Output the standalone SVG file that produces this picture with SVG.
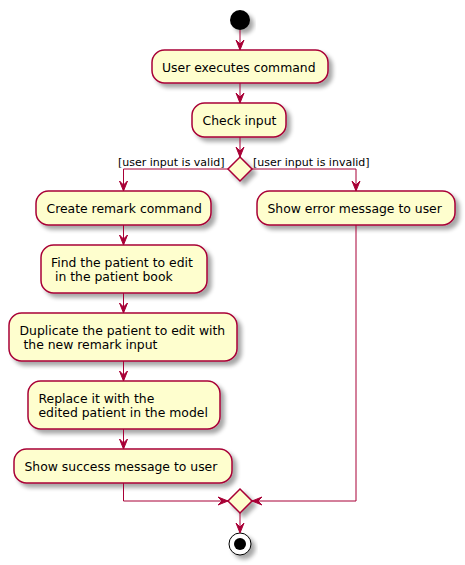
<svg xmlns="http://www.w3.org/2000/svg" width="465" height="565" viewBox="0 0 465 565">
<defs>
<filter id="sh" x="-20%" y="-20%" width="150%" height="160%">
<feGaussianBlur in="SourceAlpha" stdDeviation="2"/>
<feOffset dx="4" dy="4" result="b"/>
<feComponentTransfer><feFuncA type="linear" slope="0.35"/></feComponentTransfer>
<feMerge><feMergeNode/><feMergeNode in="SourceGraphic"/></feMerge>
</filter>
<marker id="ah" viewBox="0 0 11 10" refX="10" refY="5" markerWidth="11" markerHeight="10" markerUnits="userSpaceOnUse" orient="auto">
<polygon points="0,1 10,5 0,9 4,5" fill="#A80036" stroke="#A80036" stroke-width="1"/>
</marker>
</defs>
<style>
.act{fill:#FEFECE;stroke:#A80036;stroke-width:1.5;filter:url(#sh)}
.t{font-family:"DejaVu Sans",Verdana,sans-serif;font-size:12.4px;fill:#000}
.lbl{font-family:"DejaVu Sans",Verdana,sans-serif;font-size:11px;fill:#000}
.ca{fill:none;stroke:#A80036;stroke-width:1;marker-end:url(#ah)}
</style>
<g id="start"><circle cx="240" cy="20" r="10" fill="#000" filter="url(#sh)"/></g>
<g id="n1"><rect class="act" x="152" y="50" width="176" height="33" rx="12.5"/><text class="t" x="162" y="71.5">User executes command</text></g>
<g id="n2"><rect class="act" x="192" y="103" width="94" height="34" rx="12.5"/><text class="t" x="202.5" y="124.5">Check input</text></g>
<g id="d1"><polygon class="act" points="240,157 252,169 240,181 228,169"/></g>
<g id="n3"><rect class="act" x="36" y="191" width="175" height="34" rx="12.5"/><text class="t" x="46.5" y="213">Create remark command</text></g>
<g id="n4"><rect class="act" x="41" y="245" width="166" height="48" rx="12.5"/><text class="t" x="51" y="266.5" xml:space="preserve">Find the patient to edit</text><text class="t" x="51" y="280.5" xml:space="preserve"> in the patient book</text></g>
<g id="n5"><rect class="act" x="9" y="313" width="228" height="48" rx="12.5"/><text class="t" x="19.5" y="335" xml:space="preserve">Duplicate the patient to edit with</text><text class="t" x="19.5" y="349" xml:space="preserve"> the new remark input</text></g>
<g id="n6"><rect class="act" x="28" y="381" width="192" height="48" rx="12.5"/><text class="t" x="38.5" y="402.5">Replace it with the</text><text class="t" x="38.5" y="416.5">edited patient in the model</text></g>
<g id="n7"><rect class="act" x="14" y="449" width="218" height="34" rx="12.5"/><text class="t" x="24.5" y="470.5">Show success message to user</text></g>
<g id="n8"><rect class="act" x="257" y="191" width="198" height="34" rx="12.5"/><text class="t" x="267.5" y="213">Show error message to user</text></g>
<g id="d2"><polygon class="act" points="240,489 252,501 240,513 228,501"/></g>
<g id="end"><circle cx="240" cy="544" r="11" fill="#fff" stroke="#000" stroke-width="1" filter="url(#sh)"/><circle cx="240" cy="544" r="6" fill="#000"/></g>
<g id="connectors">
<line class="ca" x1="240" y1="30" x2="240" y2="50"/>
<line class="ca" x1="240" y1="83" x2="240" y2="103"/>
<line class="ca" x1="240" y1="137" x2="240" y2="157"/>
<polyline class="ca" points="228,169 123.5,169 123.5,191"/>
<polyline class="ca" points="252,169 356,169 356,191"/>
<line class="ca" x1="123.5" y1="225" x2="123.5" y2="245"/>
<line class="ca" x1="123.5" y1="293" x2="123.5" y2="313"/>
<line class="ca" x1="123.5" y1="361" x2="123.5" y2="381"/>
<line class="ca" x1="123.5" y1="429" x2="123.5" y2="449"/>
<polyline class="ca" points="123.5,483 123.5,501 228,501"/>
<polyline class="ca" points="356,225 356,501 252,501"/>
<line class="ca" x1="240" y1="513" x2="240" y2="533"/>
<text class="lbl" x="118" y="166">[user input is valid]</text>
<text class="lbl" x="253" y="166">[user input is invalid]</text>
</g>
</svg>
